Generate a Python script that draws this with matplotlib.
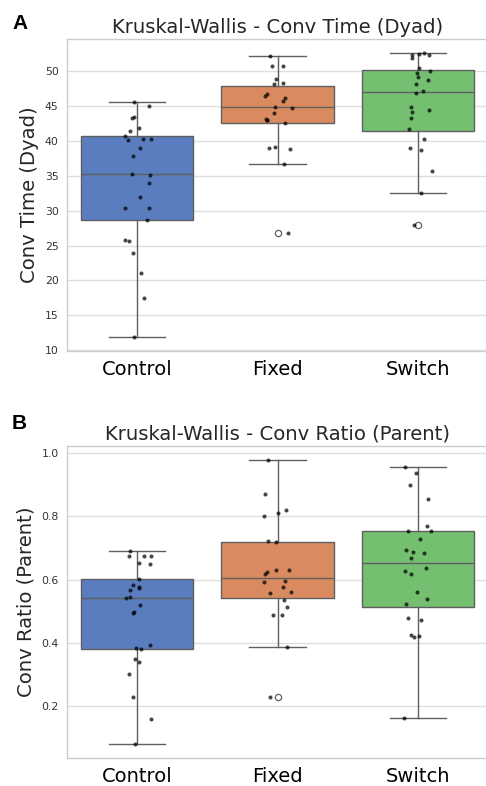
import colorsys
import numpy as np
import matplotlib
matplotlib.use("Agg")
import matplotlib.pyplot as plt
import matplotlib.colors as mcolors

# ---------------- data ----------------
groups = ["Control", "Fixed", "Switch"]

# Panel A: Conv Time (Dyad)
time_control = [45.58, 45.0, 43.35, 43.53, 41.87, 41.49, 40.68, 40.11, 40.25, 40.35,
                39.07, 37.83, 35.21, 35.12, 33.98, 32.0, 30.41, 30.36, 28.74, 25.74,
                25.6, 23.95, 21.05, 17.48, 11.91]
time_control_jit = [-0.024, 0.086, -0.038, -0.024, 0.012, -0.048, -0.09, -0.067, 0.045, 0.10,
                    0.017, -0.033, -0.038, 0.093, 0.081, 0.019, -0.086, 0.086, 0.069, -0.086,
                    -0.06, -0.029, 0.029, 0.048, -0.024]
time_fixed = [52.2, 50.81, 50.81, 48.91, 48.2, 48.39, 46.53, 46.82, 46.2, 45.72,
              44.86, 44.82, 44.1, 43.2, 43.05, 43.0, 42.54, 38.97, 39.11, 38.83,
              36.78, 26.74]
time_fixed_jit = [-0.057, -0.04, 0.04, -0.012, -0.024, 0.04, -0.09, -0.074, 0.052, 0.038,
                  -0.017, 0.10, -0.026, -0.079, -0.076, -0.072, 0.052, -0.062, -0.017, 0.088,
                  0.045, 0.076]
time_switch = [52.34, 51.96, 52.57, 52.62, 52.43, 50.53, 50.05, 49.77, 49.2, 48.77,
               48.24, 47.25, 46.96, 44.96, 44.43, 44.15, 43.3, 41.78, 40.3, 39.07,
               38.78, 35.69, 32.59, 27.98]
time_switch_jit = [-0.04, -0.04, 0.01, 0.045, 0.083, 0.005, 0.086, -0.005, -0.002, 0.069,
                   -0.01, 0.038, -0.014, -0.052, 0.079, -0.043, -0.05, -0.06, 0.043, -0.057,
                   0.026, 0.10, 0.024, -0.024]

# Panel B: Conv Ratio (Parent)
ratio_control = [0.6916, 0.6758, 0.6758, 0.6736, 0.6537, 0.6495, 0.6022, 0.5833, 0.5757, 0.5740,
                 0.5684, 0.5422, 0.5463, 0.5211, 0.498, 0.495, 0.3853, 0.3812, 0.3938, 0.3484,
                 0.3402, 0.3023, 0.2297, 0.159, 0.08]
ratio_control_jit = [-0.048, -0.057, 0.048, 0.10, 0.01, 0.095, 0.01, -0.033, 0.014, 0.01,
                     -0.05, -0.081, -0.05, 0.019, -0.026, -0.03, -0.005, 0.026, 0.095, -0.012,
                     0.014, -0.055, -0.029, 0.10, -0.012]
ratio_fixed = [0.978, 0.8725, 0.803, 0.8115, 0.821, 0.721, 0.719, 0.6253, 0.618, 0.6294,
               0.6316, 0.5937, 0.5946, 0.577, 0.559, 0.5612, 0.5347, 0.5138, 0.4895, 0.4885,
               0.3885, 0.2275]
ratio_fixed_jit = [-0.069, -0.086, -0.095, 0.007, 0.06, -0.067, -0.01, -0.074, -0.088, -0.01,
                   0.081, -0.093, 0.05, 0.036, -0.057, 0.095, 0.048, 0.069, -0.029, 0.031,
                   0.067, -0.055]
ratio_switch = [0.9567, 0.9388, 0.899, 0.8567, 0.7714, 0.7547, 0.7537, 0.7272, 0.6947, 0.6884,
                0.6843, 0.6695, 0.6357, 0.6262, 0.619, 0.5612, 0.539, 0.5242, 0.48, 0.4715,
                0.4254, 0.42, 0.421, 0.1621]
ratio_switch_jit = [-0.095, -0.014, -0.059, 0.069, 0.062, -0.071, 0.095, 0.014, -0.086, -0.036,
                    0.043, -0.048, 0.057, -0.088, -0.05, -0.005, 0.064, -0.083, -0.071, 0.021,
                    -0.048, -0.024, 0.01, -0.10]

titles = ["Kruskal-Wallis - Conv Time (Dyad)", "Kruskal-Wallis - Conv Ratio (Parent)"]
ylabels = ["Conv Time (Dyad)", "Conv Ratio (Parent)"]
panel_letters = ["A", "B"]
yticks_a = [10, 15, 20, 25, 30, 35, 40, 45, 50]
yticks_b = [0.2, 0.4, 0.6, 0.8, 1.0]

# ---------------- style ----------------
muted = ["#4878D0", "#EE854A", "#6ACC64"]


def desat(c, prop=0.75):
    r, g, b = mcolors.to_rgb(c)
    h, l, s = colorsys.rgb_to_hls(r, g, b)
    return colorsys.hls_to_rgb(h, l, s * prop)


box_colors = [desat(c) for c in muted]
line_col = "#5f5f5f"
grid_col = "#dedede"
spine_col = "#cccccc"

fig = plt.figure(figsize=(4.86, 7.86), dpi=100)

# fit title font size so the first title is ~332 px wide (as in the reference)
_probe = fig.text(0, 0, titles[0], fontsize=14)
_r = fig.canvas.get_renderer()
_w = _probe.get_window_extent(_r).width
_probe.remove()
big_fs = 14 * 332.0 / _w

ax_a = fig.add_axes([67 / 486, (786 - 351) / 786, 421 / 486, 312 / 786])
ax_b = fig.add_axes([67 / 486, (786 - 758.3) / 786, 421 / 486, 312.3 / 786])

panels = [
    (ax_a, [time_control, time_fixed, time_switch],
     [time_control_jit, time_fixed_jit, time_switch_jit], yticks_a),
    (ax_b, [ratio_control, ratio_fixed, ratio_switch],
     [ratio_control_jit, ratio_fixed_jit, ratio_switch_jit], yticks_b),
]

for k, (ax, data, jits, yt) in enumerate(panels):
    ax.set_facecolor("white")
    ax.set_axisbelow(True)
    ax.yaxis.grid(True, color=grid_col, linewidth=1.0)
    ax.xaxis.grid(False)
    bp = ax.boxplot(data, positions=range(3), widths=0.8, capwidths=0.4,
                    patch_artist=True, whis=1.5,
                    boxprops=dict(edgecolor=line_col, linewidth=1.0),
                    medianprops=dict(color=line_col, linewidth=1.0),
                    whiskerprops=dict(color=line_col, linewidth=1.0),
                    capprops=dict(color=line_col, linewidth=1.0),
                    flierprops=dict(marker="o", markerfacecolor="white",
                                    markeredgecolor=line_col, markersize=4.5,
                                    markeredgewidth=0.9),
                    zorder=2)
    for patch, col in zip(bp["boxes"], box_colors):
        patch.set_facecolor(col)
    for i, (vals, jit) in enumerate(zip(data, jits)):
        ax.scatter(np.array(jit) + i, vals, s=8.5, color="black", alpha=0.72,
                   linewidths=0, zorder=4)
    ax.set_xlim(-0.5, 2.5)
    allv = np.concatenate([np.asarray(d) for d in data])
    rng = allv.max() - allv.min()
    ax.set_ylim(allv.min() - 0.05 * rng, allv.max() + 0.05 * rng)
    ax.set_xticks(range(3))
    ax.set_xticklabels(groups, fontsize=14, color="black")
    ax.set_yticks(yt)
    ax.set_yticklabels([f"{v:g}" if k == 0 else f"{v:.1f}" for v in yt],
                       fontsize=7.8, color="#333333")
    ax.tick_params(axis="x", length=0, pad=6.5)
    ax.tick_params(axis="y", length=0, pad=6)
    for sp in ax.spines.values():
        sp.set_color(spine_col)
        sp.set_linewidth(1.0)
    ax.set_title(titles[k], fontsize=big_fs, color="#262626", pad=4.5)
    ax.set_ylabel(ylabels[k], fontsize=big_fs, color="#262626", labelpad=4)

fig.text(12 / 486, 1 - 29 / 786, panel_letters[0], fontsize=15, fontweight="bold",
         family="Liberation Sans", ha="left", va="baseline")
fig.text(12 / 486, 1 - 429 / 786, panel_letters[1], fontsize=15, fontweight="bold",
         family="Liberation Sans", ha="left", va="baseline")

fig.savefig("out.png", dpi=100, facecolor="white")
